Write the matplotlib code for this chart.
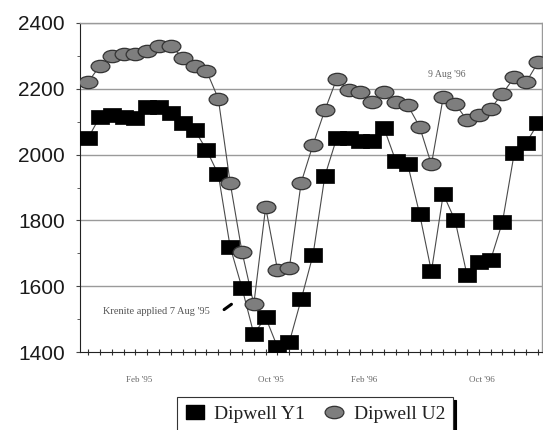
import numpy as np
import matplotlib
matplotlib.use("Agg")
import matplotlib.pyplot as plt
from matplotlib.path import Path
from matplotlib.lines import Line2D

# ---- data ----
dipwell_y1 = [2050, 2115, 2120, 2115, 2110, 2145, 2145, 2125, 2095, 2075,
              2015, 1940, 1720, 1595, 1455, 1505, 1415, 1430, 1560, 1695,
              1935, 2050, 2050, 2040, 2040, 2080, 1980, 1970, 1820, 1645,
              1880, 1800, 1635, 1675, 1680, 1795, 2005, 2035, 2095]
dipwell_u2 = [2220, 2270, 2300, 2305, 2305, 2315, 2330, 2330, 2295, 2270,
              2255, 2170, 1915, 1705, 1545, 1840, 1650, 1655, 1915, 2030,
              2135, 2230, 2195, 2190, 2160, 2190, 2160, 2150, 2085, 1970,
              2175, 2155, 2105, 2120, 2140, 2185, 2235, 2220, 2280]
x_labels = ["Feb '95", "Oct '95", "Feb '96", "Oct '96"]
y_ticks = [1400, 1600, 1800, 2000, 2200, 2400]
series_names = ["Dipwell Y1", "Dipwell U2"]
note_krenite = "Krenite applied 7 Aug '95"
note_aug96 = "9 Aug '96"

# ---- layout ----
x_label_pos = [4.3, 15.4, 23.3, 33.3]
x = np.arange(len(dipwell_y1))

W, H = 543, 430
fig = plt.figure(figsize=(W / 100, H / 100), dpi=100)
ax = fig.add_axes([80 / W, 1 - 352 / H, (542 - 80) / W, (352 - 23) / H])

# custom markers
rect_verts = np.array([(-0.67, -0.5), (0.67, -0.5), (0.67, 0.5), (-0.67, 0.5), (-0.67, -0.5)])
rect_codes = [Path.MOVETO, Path.LINETO, Path.LINETO, Path.LINETO, Path.CLOSEPOLY]
rect_marker = Path(rect_verts, rect_codes)
uc = Path.unit_circle()
ell_marker = Path(uc.vertices * np.array([1.0, 0.66]), uc.codes)

line_col = "#4a4a4a"
ax.plot(x, dipwell_y1, color=line_col, lw=0.8, zorder=3)
ax.plot(x, dipwell_u2, color=line_col, lw=0.8, zorder=3)
ax.plot(x, dipwell_y1, ls="none", marker=rect_marker, ms=13,
        mfc="black", mec="black", mew=0.5, zorder=4)
ax.plot(x, dipwell_u2, ls="none", marker=ell_marker, ms=13.5,
        mfc="#7e7e7e", mec="#333333", mew=0.9, zorder=5)

ax.set_xlim(-0.68, 38.34)
ax.set_ylim(1400, 2400)

# grid
for v in y_ticks[1:]:
    ax.axhline(v, color="#9a9a9a", lw=1.0, zorder=1)

for s in ["top", "right"]:
    ax.spines[s].set_color("#9a9a9a")
    ax.spines[s].set_linewidth(1.0)
ax.spines["left"].set_color("#222222")
ax.spines["bottom"].set_color("#222222")

ax.set_yticks(y_ticks)
ax.set_yticklabels([str(v) for v in y_ticks], fontfamily="Liberation Sans",
                   fontsize=15, color="#1a1a1a")
ax.set_yticks(np.arange(1400, 2401, 100), minor=True)
ax.tick_params(axis="y", which="major", direction="out", length=3, pad=8, color="#444444")
ax.tick_params(axis="y", which="minor", direction="out", length=2.5, color="#444444")

ax.set_xticks(x_label_pos)
ax.set_xticklabels(x_labels, fontfamily="Liberation Serif", fontsize=6.5, color="#666666")
ax.set_xticks(x, minor=True)
ax.tick_params(axis="x", which="major", length=0, pad=17)
ax.tick_params(axis="x", which="minor", direction="inout", length=4.5, width=0.8, color="#333333")

# annotations
ax.text(5.74, 1522, note_krenite, fontfamily="Liberation Serif", fontsize=7.5,
        color="#555555", ha="center", va="center")
ax.annotate("", xy=(12.3, 1550), xytext=(11.3, 1524),
            arrowprops=dict(arrowstyle="-", lw=2.2, color="black"))
ax.text(30.3, 2242, note_aug96, fontfamily="Liberation Serif", fontsize=7,
        color="#666666", ha="center", va="center")

# legend
handles = [
    Line2D([], [], ls="none", marker=rect_marker, ms=13, mfc="black", mec="black"),
    Line2D([], [], ls="none", marker=ell_marker, ms=13.5, mfc="#7e7e7e", mec="#333333", mew=0.9),
]
leg = fig.legend(handles, series_names, loc="center",
                 bbox_to_anchor=(315 / W, 1 - 414 / H), ncol=2,
                 prop={"family": "Liberation Serif", "size": 14},
                 frameon=True, fancybox=False, shadow={"color": "black", "alpha": 1},
                 handlelength=1.0, handletextpad=0.5, columnspacing=1.0,
                 borderpad=0.4, edgecolor="#333333")
leg.get_frame().set_linewidth(0.8)
for t in leg.get_texts():
    t.set_color("#222222")

fig.savefig("out.png", dpi=100)
